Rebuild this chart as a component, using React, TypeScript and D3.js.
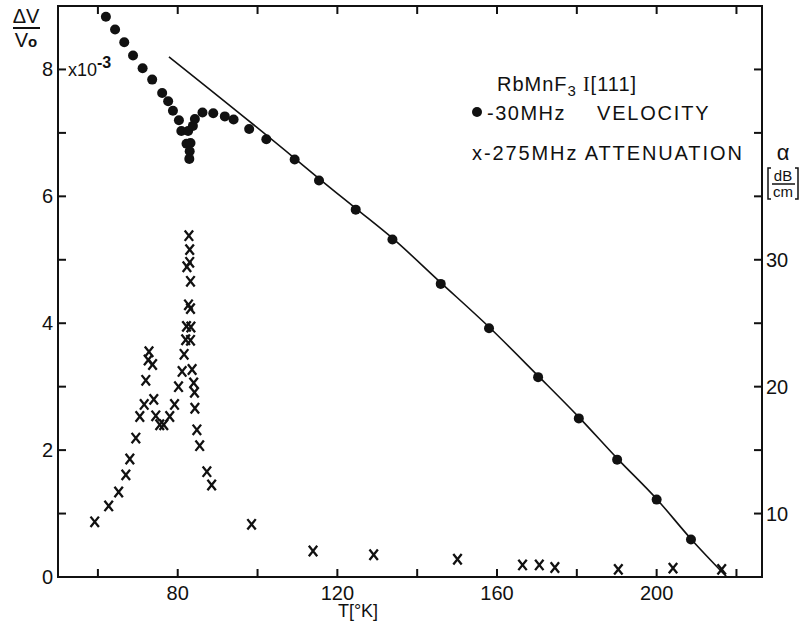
import React from "react";
import * as d3 from "d3";

// Velocity (30 MHz) — T [K], ΔV/V0 (×10^-3)
const velT = [62.0, 64.3, 66.6, 68.8, 71.2, 73.6, 76.1, 77.6, 78.8, 80.3, 80.9, 82.6, 82.2, 83.2, 83.0, 82.9, 83.8, 84.3, 86.2, 88.9, 91.8, 94.0, 97.9, 102.2, 109.3, 115.4, 124.6, 133.8, 145.9, 158.0, 170.3, 180.5, 190.1, 200.0, 208.6];
const velV = [8.83, 8.63, 8.43, 8.22, 8.02, 7.84, 7.63, 7.50, 7.35, 7.20, 7.03, 7.03, 6.83, 6.84, 6.71, 6.59, 7.11, 7.22, 7.32, 7.31, 7.26, 7.21, 7.06, 6.90, 6.58, 6.25, 5.79, 5.32, 4.62, 3.92, 3.15, 2.50, 1.85, 1.22, 0.59];

// Fitted curve
const lineT = [77.8, 109.3, 115.4, 124.6, 133.8, 145.9, 158.0, 170.3, 180.5, 190.1, 200.0, 208.6, 217.6];
const lineV = [8.20, 6.60, 6.28, 5.81, 5.34, 4.64, 3.94, 3.17, 2.52, 1.87, 1.23, 0.60, 0.0];

// Attenuation (275 MHz) — T [K], α [dB/cm]
const attT = [59.2, 62.7, 65.2, 67.0, 68.0, 69.5, 70.5, 71.6, 72.0, 72.6, 72.8, 73.7, 74.0, 74.5, 75.5, 76.5, 78.0, 79.2, 80.2, 81.1, 81.6, 82.0, 83.2, 82.2, 83.3, 82.7, 83.2, 83.2, 82.3, 83.0, 83.0, 82.8, 83.6, 84.0, 84.2, 84.3, 84.8, 85.5, 87.3, 88.5, 98.5, 113.9, 129.1, 150.1, 166.4, 170.6, 174.5, 190.4, 204.1, 216.3];
const attA = [9.35, 10.6, 11.7, 13.05, 14.3, 15.95, 17.65, 18.6, 20.5, 22.1, 22.75, 21.75, 19.0, 17.7, 17.0, 17.0, 17.65, 18.6, 20.0, 21.2, 22.55, 23.7, 23.65, 24.75, 24.7, 26.45, 26.15, 28.3, 29.45, 29.8, 30.8, 31.9, 21.35, 20.3, 19.55, 18.3, 16.6, 15.35, 13.3, 12.25, 9.15, 7.05, 6.75, 6.4, 5.95, 5.95, 5.75, 5.6, 5.7, 5.6];

const xTicks = [60, 80, 100, 120, 140, 160, 180, 200, 220];
const xLabels = [80, 120, 160, 200];
const yTicks = [1, 2, 3, 4, 5, 6, 7, 8];
const yLabels = [0, 2, 4, 6, 8];
const aTicks = [10, 15, 20, 25, 30, 35, 40, 45];
const aLabels = [10, 20, 30];

const FONT = "'Liberation Sans', Arial, sans-serif";

export default function App() {
  const L = 58, R = 762, T = 6, B = 577;
  const x = d3.scaleLinear().domain([50, 226.4]).range([L, R]);
  const y = d3.scaleLinear().domain([0, 9]).range([B, T]);
  const yA = d3.scaleLinear().domain([5, 50]).range([B, T]);
  const tick = 8;

  const linePath = d3
    .line<number>()
    .x((_, i) => x(lineT[i]))
    .y((v) => y(v))
    .curve(d3.curveMonotoneX)(lineV) as string;

  const cross = (cx: number, cy: number, k: number) => {
    const w = 4.2, h = 5.2;
    return (
      <path
        key={k}
        d={`M${cx - w},${cy - h}L${cx + w},${cy + h}M${cx + w},${cy - h}L${cx - w},${cy + h}`}
        stroke="#111"
        strokeWidth={2.3}
        fill="none"
      />
    );
  };

  return (
    <svg
      width={804}
      height={624}
      style={{ position: "absolute", left: 0, top: 0, background: "#fff" }}
      fontFamily={FONT}
    >
      <rect x={0} y={0} width={804} height={624} fill="#fff" />
      {/* frame */}
      <rect x={L} y={T} width={R - L} height={B - T} fill="none" stroke="#111" strokeWidth={2} />
      {/* bottom & top ticks */}
      {xTicks.map((t) => (
        <g key={"xt" + t}>
          <line x1={x(t)} x2={x(t)} y1={B} y2={B - tick} stroke="#111" strokeWidth={2} />
          <line x1={x(t)} x2={x(t)} y1={T} y2={T + tick} stroke="#111" strokeWidth={2} />
        </g>
      ))}
      {xLabels.map((t) => (
        <text key={"xl" + t} x={x(t)} y={600} fontSize={20} textAnchor="middle" fill="#111">
          {t}
        </text>
      ))}
      <text x={358} y={617} fontSize={18} textAnchor="middle" fill="#111">
        T[°K]
      </text>
      {/* left ticks */}
      {yTicks.map((v) => (
        <line key={"yt" + v} x1={L} x2={L + tick} y1={y(v)} y2={y(v)} stroke="#111" strokeWidth={2} />
      ))}
      {yLabels.map((v) => (
        <text key={"yl" + v} x={L - 5} y={y(v) + 7} fontSize={20} textAnchor="end" fill="#111">
          {v}
        </text>
      ))}
      <text x={L + 10} y={y(8) + 7} fontSize={18} fill="#111">
        x10
        <tspan dy={-8} fontSize={16} fontWeight="bold">-3</tspan>
      </text>
      {/* left axis title */}
      <text x={26} y={23} fontSize={20} textAnchor="middle" fill="#111">ΔV</text>
      <line x1={13} x2={40} y1={28} y2={28} stroke="#111" strokeWidth={2} />
      <text x={26} y={47} fontSize={20} textAnchor="middle" fill="#111">
        V<tspan fontSize={15} fontWeight="bold">o</tspan>
      </text>
      {/* right ticks */}
      {aTicks.map((a) => (
        <line key={"at" + a} x1={R} x2={R - tick} y1={yA(a)} y2={yA(a)} stroke="#111" strokeWidth={2} />
      ))}
      {aLabels.map((a) => (
        <text key={"al" + a} x={R + 4} y={yA(a) + 7} fontSize={20} fill="#111">
          {a}
        </text>
      ))}
      <text x={783} y={160} fontSize={22} textAnchor="middle" fill="#111">α</text>
      <text x={783} y={181} fontSize={15} textAnchor="middle" fill="#111">dB</text>
      <line x1={772} x2={795} y1={184} y2={184} stroke="#111" strokeWidth={1.5} />
      <text x={783} y={197} fontSize={15} textAnchor="middle" fill="#111">cm</text>
      <path d="M771,168 L768,168 L768,199 L771,199" stroke="#111" strokeWidth={1.5} fill="none" />
      <path d="M795,168 L798,168 L798,199 L795,199" stroke="#111" strokeWidth={1.5} fill="none" />
      {/* title & legend */}
      <text x={497} y={91} fontSize={20} fill="#111" letterSpacing={1}>
        RbMnF<tspan dy={5} fontSize={15}>3</tspan>
        <tspan dy={-5} fontFamily="'Liberation Serif', serif"> I</tspan>[111]
      </text>
      <circle cx={477} cy={112} r={5} fill="#111" />
      <text x={487} y={120} fontSize={20} fill="#111" letterSpacing={1.5}>
        -30MHz
      </text>
      <text x={597} y={120} fontSize={20} fill="#111" letterSpacing={1.8}>
        VELOCITY
      </text>
      <text x={472} y={160} fontSize={20} fill="#111" letterSpacing={1.9}>
        x-275MHz ATTENUATION
      </text>
      {/* fitted line */}
      <path d={linePath} fill="none" stroke="#111" strokeWidth={1.6} />
      {/* velocity dots */}
      {velT.map((t, i) => (
        <circle key={"v" + i} cx={x(t)} cy={y(velV[i])} r={5} fill="#111" />
      ))}
      {/* attenuation crosses */}
      {attT.map((t, i) => cross(x(t), yA(attA[i]), i))}
    </svg>
  );
}
